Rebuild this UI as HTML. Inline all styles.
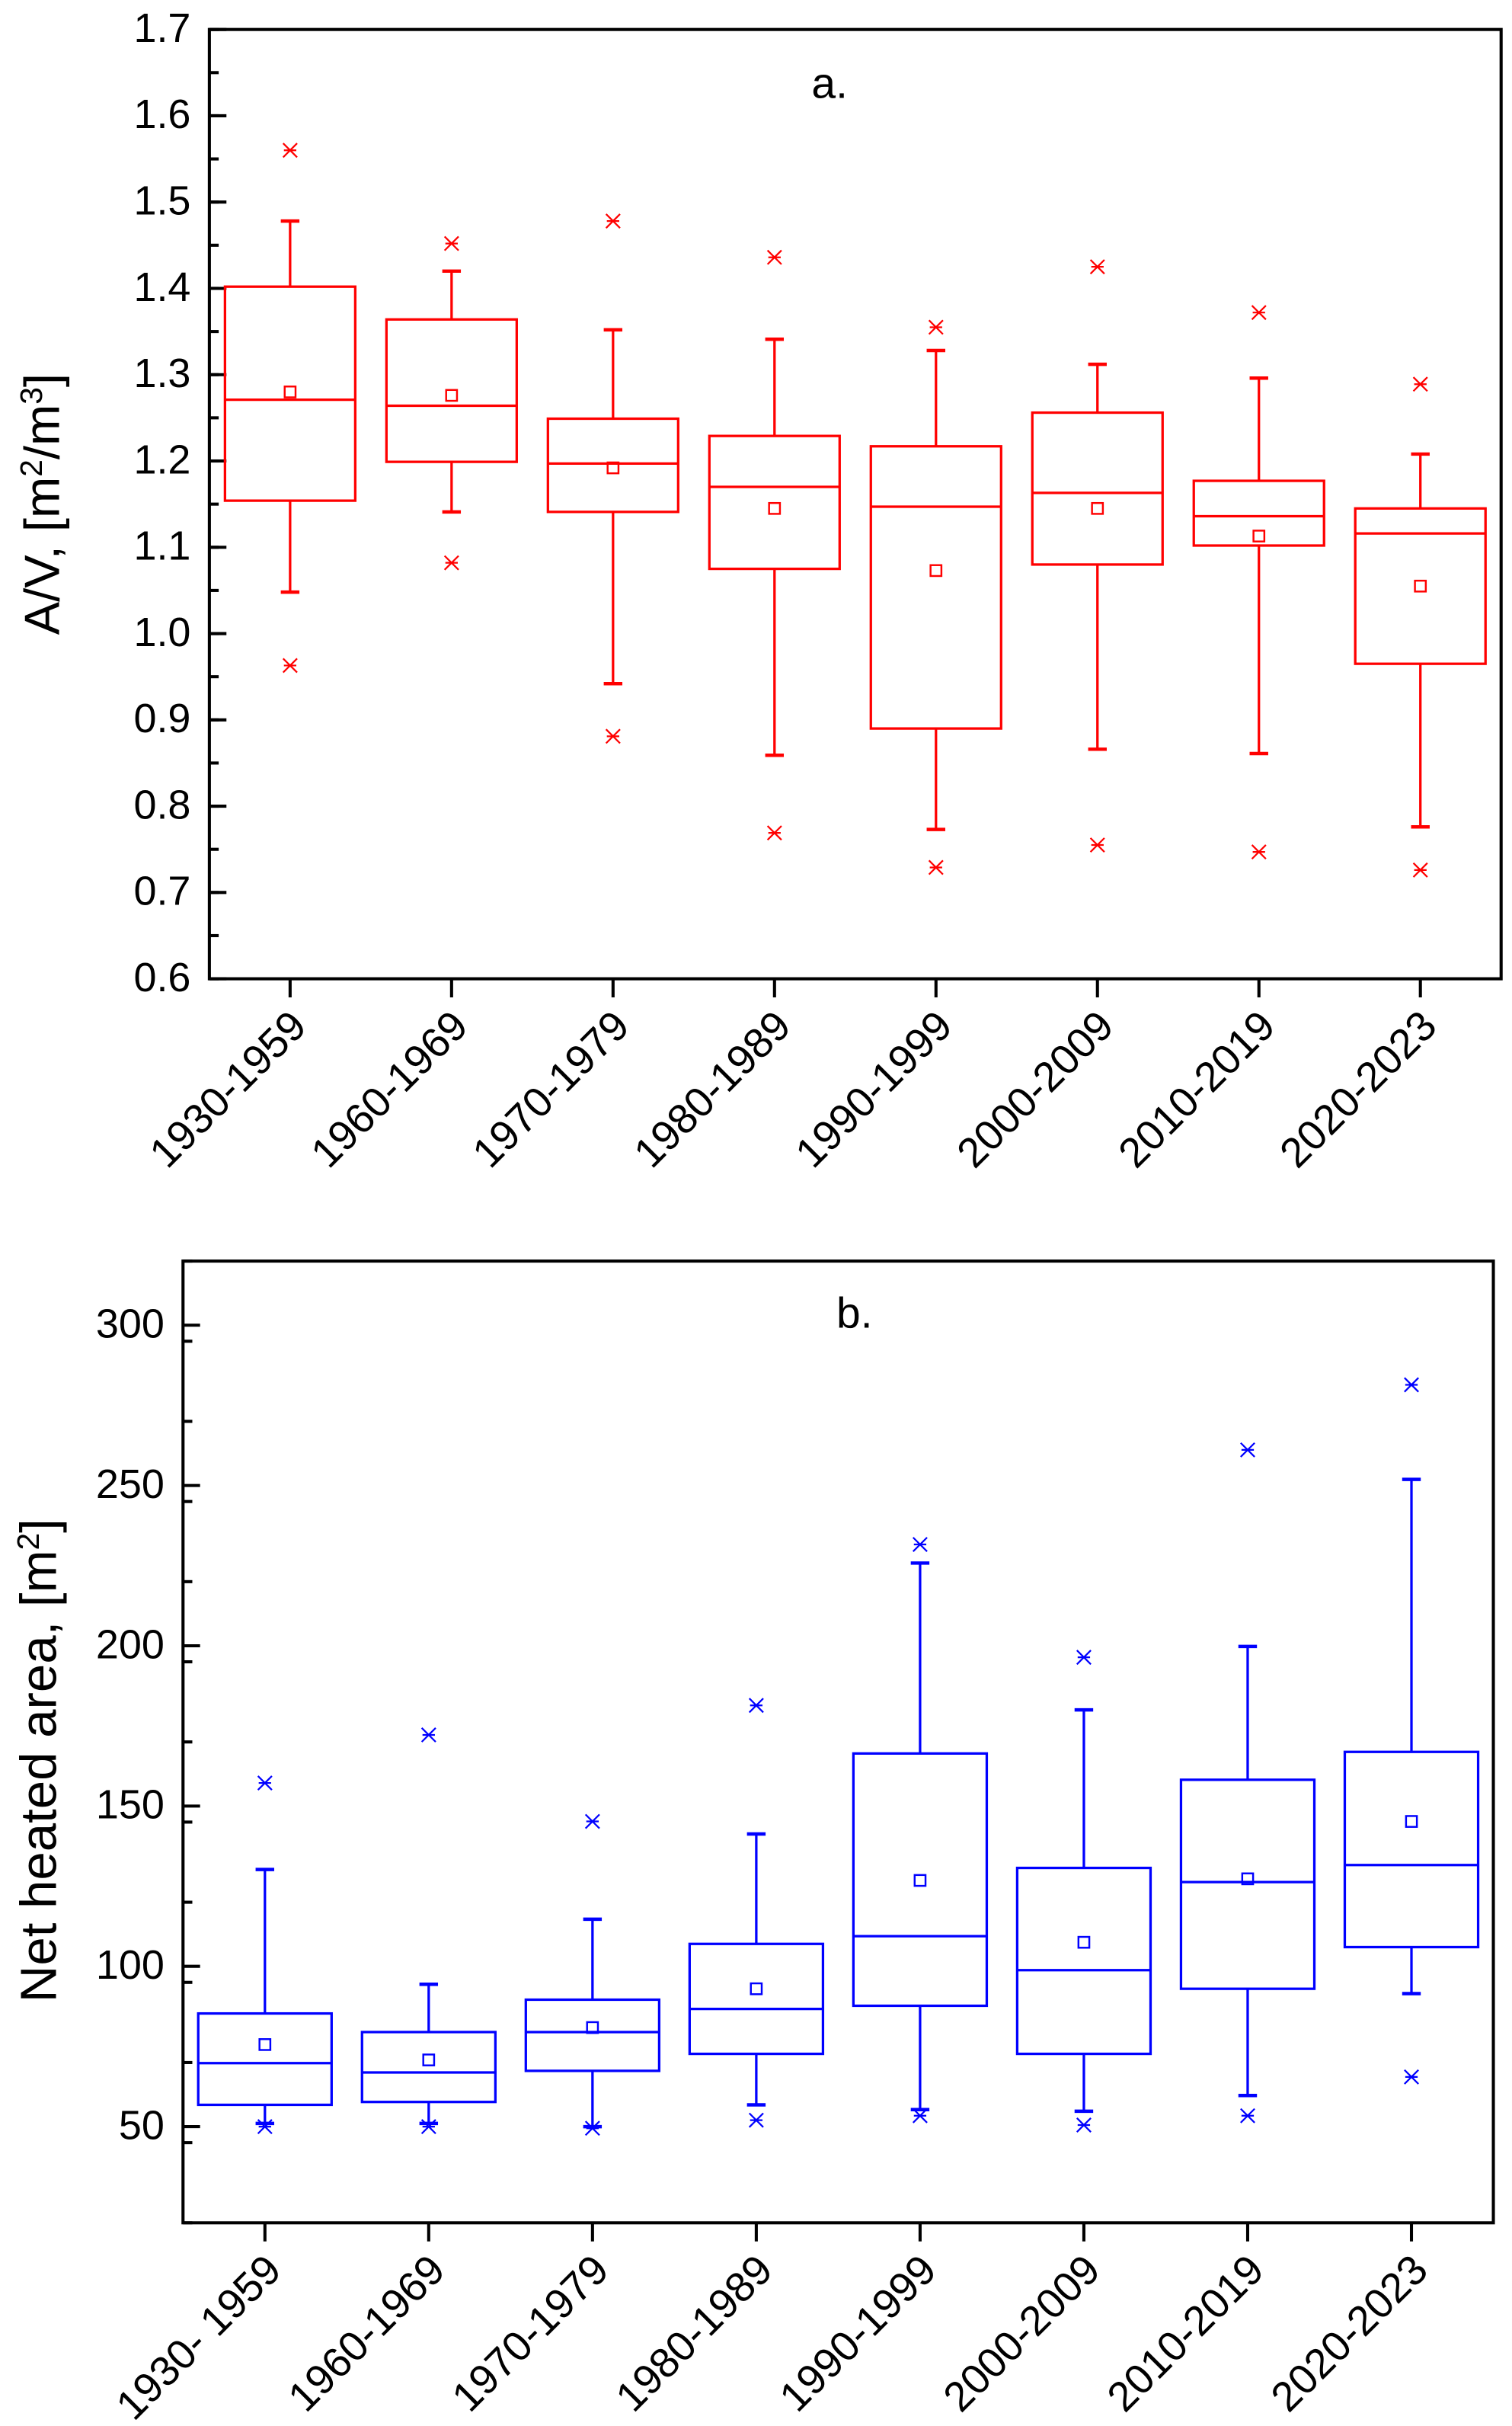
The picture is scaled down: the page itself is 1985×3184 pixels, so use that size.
<!DOCTYPE html>
<html><head><meta charset="utf-8"><style>
html,body{margin:0;padding:0;background:#fff;}
svg{display:block;font-family:"Liberation Sans",Arial,sans-serif;}
</style></head><body>
<svg id="svg" width="1985" height="3184" viewBox="0 0 975 1564" xmlns="http://www.w3.org/2000/svg">
<g id="chartA"></g>
<g id="chartB"></g>
</svg>
<script>
const catsA = ["1930-1959","1960-1969","1970-1979","1980-1989","1990-1999","2000-2009","2010-2019","2020-2023"];
const whiskerHighA = [1.478,1.420,1.352,1.341,1.328,1.312,1.296,1.208];
const q3A = [1.402,1.364,1.249,1.229,1.217,1.256,1.177,1.145];
const medianA = [1.271,1.264,1.197,1.170,1.147,1.163,1.136,1.116];
const q1A = [1.154,1.199,1.141,1.075,0.890,1.080,1.102,0.965];
const whiskerLowA = [1.048,1.141,0.942,0.859,0.773,0.866,0.861,0.776];
const meanA = [1.280,1.276,1.192,1.145,1.073,1.145,1.113,1.055];
const outHighA = [1.560,1.452,1.478,1.436,1.355,1.425,1.372,1.289];
const outLowA = [0.963,1.082,0.881,0.769,0.729,0.755,0.747,0.726];
const ticksA = ["0.6","0.7","0.8","0.9","1.0","1.1","1.2","1.3","1.4","1.5","1.6","1.7"];

const catsB = ["1930- 1959","1960-1969","1970-1979","1980-1989","1990-1999","2000-2009","2010-2019","2020-2023"];
const whiskerHighB = [130.2,94.4,114.7,141.3,225.8,180.0,199.8,251.9];
const q3B = [85.3,79.5,89.6,107.0,166.4,130.7,158.2,166.9];
const medianB = [69.8,66.9,79.5,86.7,109.4,98.8,126.3,131.6];
const q1B = [56.8,57.7,67.4,72.7,87.7,72.7,93.0,106.0];
const whiskerLowB = [51.0,51.0,50.0,56.8,55.3,54.8,59.7,91.5];
const meanB = [75.6,70.8,80.9,93.0,126.8,107.5,127.3,145.2];
const outHighB = [157.2,172.2,145.2,181.4,231.6,196.4,261.1,281.4];
const outLowB = [50.0,50.0,49.5,52.0,53.4,50.5,53.4,65.5];
const ticksB = ["50","100","150","200","250","300"];

const NS="http://www.w3.org/2000/svg";
function mk(parent,tag,attrs,text){const e=document.createElementNS(NS,tag);for(const k in attrs)e.setAttribute(k,attrs[k]);if(text!==undefined)e.textContent=text;parent.appendChild(e);return e;}

function drawChart(g,cfg){
  const {x0,x1,y0,y1,vmin,vmax,color,cats,wh,q3,med,q1,wl,mean,oh,ol,ticks,minorStep,boxW,title,titleX,titleY,titleSize,panel,panelX,panelY,labelDy}=cfg;
  const ys=v=>y1-(v-vmin)/(vmax-vmin)*(y1-y0);
  const step=(x1-x0)/cats.length;
  const xs=i=>x0+step*(i+0.5);
  const fr=mk(g,'rect',{x:x0,y:y0,width:x1-x0,height:y1-y0,fill:'none',stroke:'#000','stroke-width':2});
  
  
  for(let v=vmin;v<=vmax+1e-9;v+=minorStep){
    const t=mk(g,'line',{x1:x0,x2:x0+6,y1:ys(v),y2:ys(v),stroke:'#000','stroke-width':2});
    
    
  }
  ticks.forEach(s=>{
    const v=parseFloat(s);
    const t=mk(g,'line',{x1:x0,x2:x0+11,y1:ys(v),y2:ys(v),stroke:'#000','stroke-width':2});
    
    
    const l=mk(g,'text',{x:x0-12,y:ys(v)+8,'text-anchor':'end','font-size':26.5},s);
    
    
  });
  const tt=mk(g,'text',{x:titleX,y:titleY,'text-anchor':'middle','font-size':titleSize,transform:`rotate(-90 ${titleX} ${titleY})`});
  tt.innerHTML=title;
  
  
  const pl=mk(g,'text',{x:panelX,y:panelY,'text-anchor':'middle','font-size':28},panel);
  
  
  cats.forEach((c,i)=>{
    const x=xs(i);
    const t=mk(g,'line',{x1:x,x2:x,y1:y1,y2:y1+12,stroke:'#000','stroke-width':2});
    
    
    const ax=x+12, ay=y1+labelDy;
    const l=mk(g,'text',{x:ax,y:ay,'text-anchor':'end','font-size':27,transform:`rotate(-45 ${ax} ${ay})`},c);
    
    
    const bg=mk(g,'g',{stroke:color,'stroke-width':1.6,fill:'none'});
    
    
    mk(bg,'rect',{x:x-boxW/2,y:ys(q3[i]),width:boxW,height:ys(q1[i])-ys(q3[i])});
    mk(bg,'line',{x1:x-boxW/2,x2:x+boxW/2,y1:ys(med[i]),y2:ys(med[i])});
    mk(bg,'line',{x1:x,x2:x,y1:ys(q3[i]),y2:ys(wh[i])});
    mk(bg,'line',{x1:x,x2:x,y1:ys(q1[i]),y2:ys(wl[i])});
    mk(bg,'line',{x1:x-6,x2:x+6,y1:ys(wh[i]),y2:ys(wh[i]),'stroke-width':2.2});
    mk(bg,'line',{x1:x-6,x2:x+6,y1:ys(wl[i]),y2:ys(wl[i]),'stroke-width':2.2});
    mk(bg,'rect',{x:x-3.5,y:ys(mean[i])-3.5,width:7,height:7,'stroke-width':1.2});
    [oh[i],ol[i]].forEach(v=>{
      const y=ys(v);
      mk(bg,'path',{d:`M${x-4.5} ${y-4.5}L${x+4.5} ${y+4.5}M${x-4.5} ${y+4.5}L${x+4.5} ${y-4.5}M${x-4} ${y}L${x+4} ${y}`,'stroke-width':1.1});
    });
  });
}

drawChart(document.getElementById('chartA'),{x0:135,x1:968,y0:19,y1:631,vmin:0.6,vmax:1.7,color:'#ff0000',
  cats:catsA,wh:whiskerHighA,q3:q3A,med:medianA,q1:q1A,wl:whiskerLowA,mean:meanA,oh:outHighA,ol:outLowA,
  ticks:ticksA,minorStep:0.05,boxW:84,title:'A/V, [m<tspan dy="-11" font-size="20">2</tspan><tspan dy="11">/m</tspan><tspan dy="-11" font-size="20">3</tspan><tspan dy="11">]</tspan>',
  titleX:38,titleY:325,titleSize:32,panel:'a.',panelX:535,panelY:63,labelDy:32});
drawChart(document.getElementById('chartB'),{x0:118,x1:963,y0:813,y1:1433,vmin:20,vmax:320,color:'#0000ff',
  cats:catsB,wh:whiskerHighB,q3:q3B,med:medianB,q1:q1B,wl:whiskerLowB,mean:meanB,oh:outHighB,ol:outLowB,
  ticks:ticksB,minorStep:25,boxW:86,title:'Net heated area, [m<tspan dy="-11" font-size="20">2</tspan><tspan dy="11">]</tspan>',
  titleX:36,titleY:1135,titleSize:33,panel:'b.',panelX:551,panelY:856,labelDy:32});
</script>
</body></html>
